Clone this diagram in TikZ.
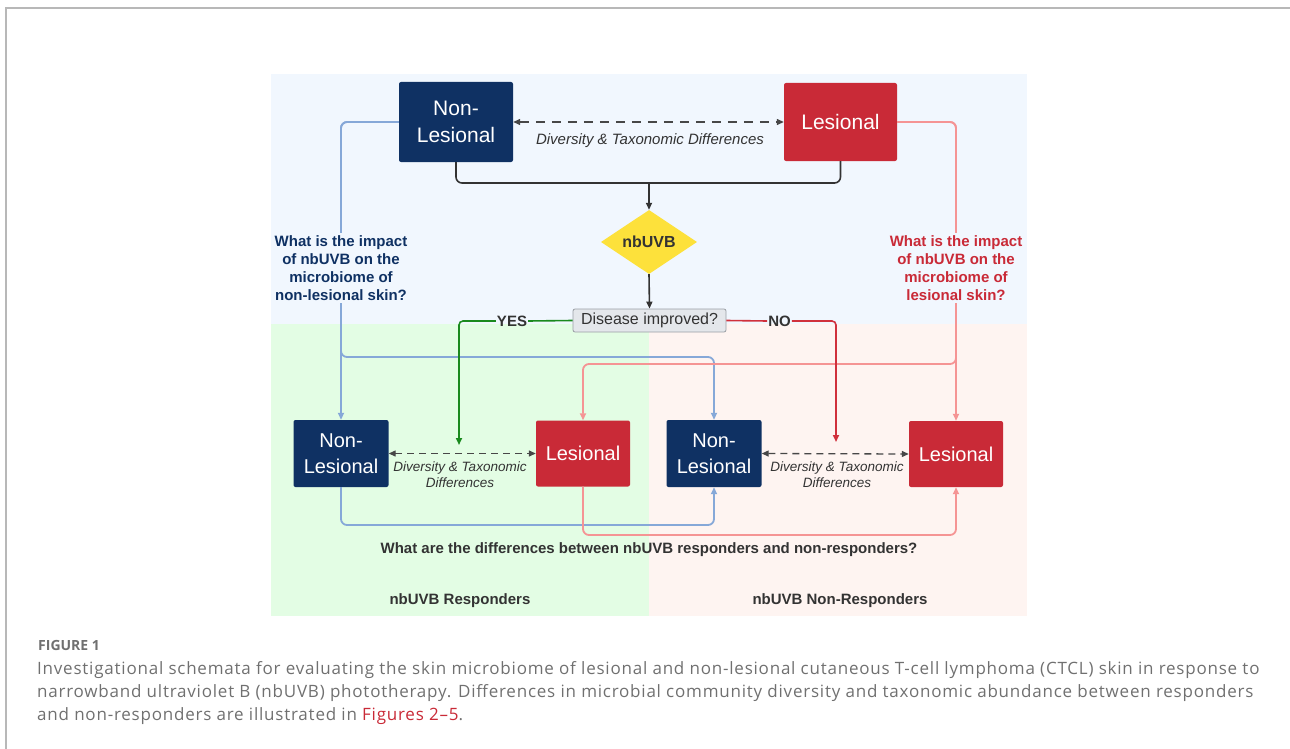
\documentclass[tikz,border=0pt]{standalone}
\usepackage{fontspec}
\setmainfont{Liberation Sans}
\newfontfamily\capfont[LetterSpace=4.6]{Open Sans}
\newfontfamily\figfont{Open Sans}
\usetikzlibrary{arrows.meta,shapes.geometric,calc}
\definecolor{navy}{HTML}{0F3163}
\definecolor{redbx}{HTML}{C92A37}
\definecolor{yel}{HTML}{FDE13B}
\definecolor{blueln}{HTML}{86A8D8}
\definecolor{pinkln}{HTML}{F59494}
\definecolor{grn}{HTML}{1A8A1E}
\definecolor{redln}{HTML}{D0303C}
\definecolor{bgblue}{HTML}{F1F7FE}
\definecolor{bggreen}{HTML}{E3FDE4}
\definecolor{bgpink}{HTML}{FEF4F1}
\definecolor{txt}{HTML}{333333}
\definecolor{capgrey}{HTML}{707070}
\definecolor{framegrey}{HTML}{B8B8B8}
\definecolor{disfill}{HTML}{E4E7EB}
\definecolor{disdraw}{HTML}{9A9FA5}
\begin{document}
\begin{tikzpicture}[x=1pt,y=-1pt,
  tip/.style={-{Triangle[length=7pt,width=6pt]}},
  dtip/.style={{Triangle[length=7pt,width=6pt]}-{Triangle[length=7pt,width=6pt]}},
  boxbase/.style={text=white,rounded corners=2pt,align=center,inner sep=0pt},
  navybig/.style={boxbase,fill=navy,font=\fontsize{21}{27}\selectfont},
  redbig/.style={boxbase,fill=redbx,font=\fontsize{21}{27}\selectfont},
  navysm/.style={boxbase,fill=navy,font=\fontsize{20}{26}\selectfont,minimum width=95pt,minimum height=67pt},
  redsm/.style={boxbase,fill=redbx,font=\fontsize{20}{26}\selectfont,minimum width=94pt,minimum height=66pt},
  blkln/.style={draw=txt,line width=1.6pt,rounded corners=6pt},
  bluelnst/.style={draw=blueln,line width=1.8pt,rounded corners=6pt},
  pinklnst/.style={draw=pinkln,line width=1.8pt,rounded corners=6pt},
  dashln/.style={draw=txt!90,line width=1.3pt,dash pattern=on 9pt off 7pt},
  dashsm/.style={draw=txt!90,line width=1.3pt,dash pattern=on 7pt off 5pt},
  itlab/.style={text=txt,font=\itshape\fontsize{15}{18}\selectfont,align=center,inner sep=0pt},
  itsm/.style={text=txt,font=\itshape\fontsize{13.5}{16}\selectfont,align=center,inner sep=0pt},
  boldlab/.style={text=txt,font=\bfseries\fontsize{15}{18}\selectfont,align=center,inner sep=1pt},
  qlab/.style={font=\bfseries\fontsize{15}{18}\selectfont,align=center,inner sep=2pt},
  capline/.style={anchor=base west,inner sep=0pt,text=capgrey,font=\capfont\fontsize{17}{20}\selectfont}
]
\useasboundingbox (0,0) rectangle (1290,749);
% frame
\draw[framegrey,line width=1.3pt] (6,749) -- (6,8) -- (1290,8);
% backgrounds
\fill[bgblue] (271,74) rectangle (1027,324);
\fill[bggreen] (271,324) rectangle (649,616);
\fill[bgpink] (649,324) rectangle (1027,616);

% top nodes
\node[navybig,minimum width=114pt,minimum height=80pt] (NLtop) at (456,122) {Non-\\Lesional};
\node[redbig,minimum width=113pt,minimum height=78pt] (Ltop) at (840.5,122) {Lesional};
\node[diamond,fill=yel,minimum width=96pt,minimum height=64pt,aspect=1.5,inner sep=0pt,
      text=txt,font=\bfseries\fontsize{16}{18}\selectfont] (dia) at (649,242) {nbUVB};
\node[fill=disfill,draw=disdraw,line width=0.8pt,rounded corners=2pt,minimum width=153pt,minimum height=23pt,
      inner sep=0pt,text=txt,font=\fontsize{16}{18}\selectfont] (dis) at (649.5,320.5) {Disease improved?};

% bottom nodes
\node[navysm] (NL1) at (341,453.5) {Non-\\Lesional};
\node[redsm] (L1) at (583,453.5) {Lesional};
\node[navysm] (NL2) at (714,453.5) {Non-\\Lesional};
\node[redsm] (L2) at (956,454) {Lesional};

% coordinates
\coordinate (merge) at (649,183);
\coordinate (bb) at (341,357);
\coordinate (pb) at (956,364);
\coordinate (bl) at (341,525);
\coordinate (pl) at (583,535);
\coordinate (gend) at (459,445);
\coordinate (rend) at (836,442);

% top dashed
\draw[dashln,dtip] (NLtop.east) -- (Ltop.west);
\node[itlab] (dt1) at (650,141) {Diversity \& Taxonomic Differences};

% black merge
\draw[blkln] (NLtop.south) |- (merge);
\draw[blkln] (Ltop.south) |- (merge);
\draw[blkln,tip] (merge) -- (dia.north);
\draw[blkln,tip] (dia.south) -- (dis.north);

% blue lines
\draw[bluelnst,tip] (NLtop.west) -| (NL1.north);
\draw[bluelnst,tip] (NLtop.west) -| (bb) -| (NL2.north);
% pink lines
\draw[pinklnst,tip] (Ltop.east) -| (L2.north);
\draw[pinklnst,tip] (Ltop.east) -| (pb) -| (L1.north);

% question labels over lines
\node[qlab,fill=bgblue,text=navy] (qnl) at (341,268) {What is the impact\\of nbUVB on the\\microbiome of\\non-lesional skin?};
\node[qlab,fill=bgblue,text=redbx] (ql) at (956,268) {What is the impact\\of nbUVB on the\\microbiome of\\lesional skin?};

% yes / no
\node[boldlab] (yes) at (512,321) {YES};
\node[boldlab] (no) at (779.5,321) {NO};
\draw[grn,line width=1.6pt] (dis.west) -- (yes.east);
\draw[grn,line width=1.6pt,rounded corners=4pt,tip] (yes.west) -| (gend);
\draw[redln,line width=1.6pt] (dis.east) -- (no.west);
\draw[redln,line width=1.6pt,rounded corners=4pt,tip] (no.east) -| (rend);

% bottom dashed
\draw[dashsm,dtip] (NL1.east) -- (L1.west);
\draw[dashsm,dtip] (NL2.east) -- (L2.west);
\node[itsm] (dt2) at (460,475) {Diversity \& Taxonomic\\Differences};
\node[itsm] (dt3) at (837,475) {Diversity \& Taxonomic\\Differences};

% bottom connectors
\draw[bluelnst,tip] (NL1.south) -- (bl) -| (NL2.south);
\draw[pinklnst,tip] (L1.south) -- (pl) -| (L2.south);

% bottom texts
\node[boldlab] (qbot) at (649,550) {What are the differences between nbUVB responders and non-responders?};
\node[boldlab] (resp) at (460,601) {nbUVB Responders};
\node[boldlab] (nresp) at (840,601) {nbUVB Non-Responders};

% caption
\node[anchor=base west,inner sep=0pt,text=capgrey,font=\figfont\bfseries\fontsize{14}{16}\selectfont] (fig) at (38,650) {FIGURE 1};
\node[capline] (c1) at (37,674) {Investigational schemata for evaluating the skin microbiome of lesional and non-lesional cutaneous T-cell lymphoma (CTCL) skin in response to};
\node[capline] (c2) at (37,697) {narrowband ultraviolet B (nbUVB) phototherapy. Differences in microbial community diversity and taxonomic abundance between responders};
\node[capline] (c3) at (37,720) {and non-responders are illustrated in \textcolor{redbx}{Figures 2–5}.};
\end{tikzpicture}
\end{document}
